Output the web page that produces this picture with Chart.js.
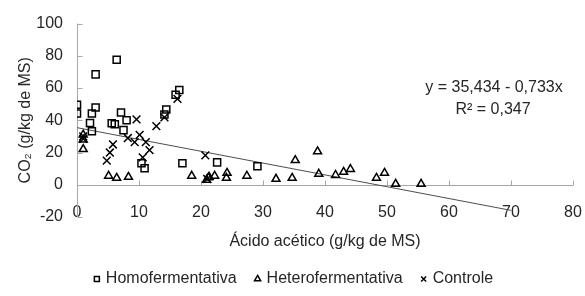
<!DOCTYPE html>
<html>
<head>
<meta charset="utf-8">
<script src="https://cdn.jsdelivr.net/npm/chart.js@4.4.0/dist/chart.umd.min.js"></script>
<style>
  html, body { margin: 0; padding: 0; background: #ffffff; }
  #wrap { width: 585px; height: 296px; }
</style>
</head>
<body>
<div id="wrap"><canvas id="c" width="585" height="296"></canvas></div>
<script>
// ---------------- data ----------------
const seriesNames = ['Homofermentativa', 'Heterofermentativa', 'Controle'];

const homoX = [0, 0, 3.0, 6.4, 3.0, 2.4, 2.1, 2.4, 5.6, 6.1, 7.1, 8.0, 7.5, 16.5, 15.9, 14.4, 14.1, 10.4, 10.9, 17.0, 22.6, 29.1];
const homoY = [49.7, 44.2, 68.5, 77.6, 47.9, 44.2, 38.3, 33.2, 38.2, 37.6, 44.8, 40.0, 33.9, 58.8, 55.8, 46.7, 43.6, 13.3, 10.3, 13.3, 13.9, 11.5];

const heteroX = [1.0, 1.0, 1.0, 5.1, 6.4, 8.3, 18.5, 20.9, 21.2, 21.3, 22.2, 24.1, 24.2, 27.4, 32.1, 34.7, 35.2, 38.8, 39.0, 41.7, 43.0, 44.1, 48.3, 49.6, 51.4, 55.5];
const heteroY = [31.0, 28.0, 22.0, 5.5, 4.2, 4.8, 5.5, 3.0, 4.5, 4.8, 5.5, 4.2, 7.3, 5.5, 3.6, 4.2, 15.2, 20.6, 6.7, 6.0, 7.9, 9.7, 4.2, 7.3, 0.5, 0.5];

const controlX = [1.0, 1.0, 4.8, 5.3, 5.8, 8.2, 9.3, 9.6, 10.1, 10.6, 11.1, 11.7, 12.8, 14.1, 16.2, 20.7, 21.0];
const controlY = [28.5, 30.0, 15.0, 20.0, 25.0, 29.0, 26.5, 40.6, 31.0, 17.0, 26.5, 21.5, 36.4, 41.8, 53.3, 18.2, 3.6];

const xTickValues = [0, 10, 20, 30, 40, 50, 60, 70, 80];
const yTickValues = [-20, 0, 20, 40, 60, 80, 100];

// trend line as printed on the chart: y = 35,434 - 0,733x, drawn from x = 0 to x = 70
const trendIntercept = 35.434;
const trendSlope = -0.733;
const trendX = [0, 70];
const equationLines = ['y = 35,434 - 0,733x', 'R\u00B2 = 0,347'];

const xTitle = '\u00C1cido ac\u00E9tico (g/kg de MS)';
const yTitle = 'CO\u2082 (g/kg de MS)';

// ---------------- chart ----------------
const toPts = (xs, ys) => xs.map((v, i) => ({ x: v, y: ys[i] }));
const FONT = { family: '"Liberation Sans", Arial, sans-serif', size: 16 };
const TXT = '#262626';
const AXIS = '#a6a6a6';

const axesPlugin = {
  id: 'excelAxes',
  beforeDatasetsDraw(chart) {
    const { ctx, scales: { x, y } } = chart;
    const x0 = Math.round(x.getPixelForValue(0)) + 0.5;
    const y0 = Math.round(y.getPixelForValue(0)) + 0.5;
    ctx.save();
    ctx.strokeStyle = AXIS;
    ctx.lineWidth = 1;
    ctx.beginPath();
    ctx.moveTo(x0, y.getPixelForValue(yTickValues[yTickValues.length - 1]));
    ctx.lineTo(x0, y.getPixelForValue(yTickValues[0]));
    y.ticks.forEach(t => {
      const py = Math.round(y.getPixelForValue(t.value)) + 0.5;
      ctx.moveTo(x0, py);
      ctx.lineTo(x0 + 5, py);
    });
    ctx.moveTo(x.getPixelForValue(xTickValues[0]), y0);
    ctx.lineTo(x.getPixelForValue(xTickValues[xTickValues.length - 1]), y0);
    x.ticks.forEach(t => {
      const px = Math.round(x.getPixelForValue(t.value)) + 0.5;
      ctx.moveTo(px, y0);
      ctx.lineTo(px, y0 - 5);
    });
    ctx.stroke();
    ctx.restore();
  },
  afterDraw(chart) {
    const { ctx } = chart;
    ctx.save();
    ctx.fillStyle = TXT;
    ctx.font = '16px "Liberation Sans", Arial, sans-serif';
    ctx.textAlign = 'center';
    ctx.textBaseline = 'middle';
    ctx.fillText(equationLines[0], 494, 88);
    ctx.fillText(equationLines[1], 493, 110);
    ctx.restore();
  }
};

const markerCommon = {
  borderColor: '#000000',
  backgroundColor: 'rgba(0,0,0,0)',
  borderWidth: 1.5,
  pointBorderWidth: 1.5,
  pointHoverRadius: 5
};

new Chart(document.getElementById('c'), {
  type: 'scatter',
  data: {
    datasets: [
      Object.assign({ label: seriesNames[0], data: toPts(homoX, homoY), pointStyle: 'rect', pointRadius: 5 }, markerCommon),
      Object.assign({ label: seriesNames[1], data: toPts(heteroX, heteroY), pointStyle: 'triangle', pointRadius: 4.6 }, markerCommon),
      Object.assign({ label: seriesNames[2], data: toPts(controlX, controlY), pointStyle: 'crossRot', pointRadius: 5.5 }, markerCommon),
      {
        type: 'line',
        label: 'trend',
        data: trendX.map(v => ({ x: v, y: trendIntercept + trendSlope * v })),
        borderColor: '#4d4d4d',
        borderWidth: 1,
        pointRadius: 0,
        fill: false,
        order: 10
      }
    ]
  },
  options: {
    responsive: false,
    animation: false,
    devicePixelRatio: 1,
    layout: { padding: { left: 16, right: 12, top: 19, bottom: -1 } },
    plugins: {
      tooltip: { enabled: false },
      legend: {
        position: 'bottom',
        labels: {
          usePointStyle: true,
          boxWidth: 2,
          boxHeight: 5,
          padding: 20,
          color: TXT,
          font: FONT,
          filter: item => item.datasetIndex < 3
        }
      }
    },
    scales: {
      x: {
        type: 'linear',
        min: xTickValues[0],
        max: xTickValues[xTickValues.length - 1],
        afterBuildTicks: s => { s.ticks = xTickValues.map(v => ({ value: v })); },
        grid: { display: false, drawTicks: false },
        border: { display: false },
        ticks: { mirror: true, padding: -5.6, color: TXT, font: FONT, maxRotation: 0, autoSkip: false },
        title: { display: true, text: xTitle, color: TXT, font: FONT, padding: { top: 9.7, bottom: -0.6 } },
        afterFit: s => { s.height = 34; }
      },
      y: {
        type: 'linear',
        min: yTickValues[0],
        max: yTickValues[yTickValues.length - 1],
        afterBuildTicks: s => { s.ticks = yTickValues.map(v => ({ value: v })); },
        grid: { display: false, drawTicks: false },
        border: { display: false },
        ticks: { padding: 14, color: TXT, font: FONT },
        title: { display: true, text: yTitle, color: TXT, font: FONT, padding: { top: 0, bottom: 2 } },
        afterFit: s => { s.width = 61; }
      }
    }
  },
  plugins: [axesPlugin]
});
</script>
</body>
</html>
